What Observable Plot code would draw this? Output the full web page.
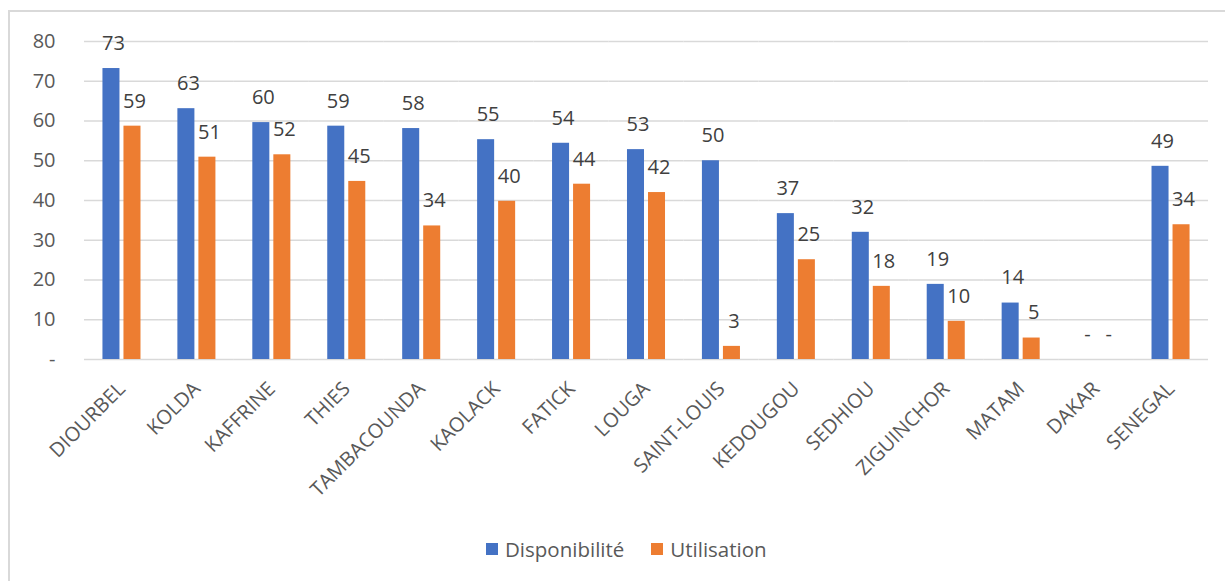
<!DOCTYPE html>
<html><head><meta charset="utf-8">
<script src="https://cdn.jsdelivr.net/npm/d3@7"></script>
<script src="https://cdn.jsdelivr.net/npm/@observablehq/plot@0.6"></script>
<style>
body{margin:0;background:#fff;font-family:"Open Sans",sans-serif;}
#wrap{position:relative;width:1225px;height:581px;overflow:hidden;}
#frame{position:absolute;left:8px;top:10px;width:1240px;height:600px;border:2px solid #d9d9d9;box-sizing:border-box;}
#chart{position:absolute;left:0;top:0;}
#legend{position:absolute;left:486px;top:535px;height:28px;display:flex;align-items:center;font-size:20.5px;color:#595959;}
.sw{width:12px;height:12px;display:inline-block;margin-right:7px;}
.item{display:flex;align-items:center;margin-right:27px;}
</style></head>
<body>
<div id="wrap"><div id="frame"></div><div id="chart"></div><div id="legend"></div></div>
<script>
const regions = ["DIOURBEL","KOLDA","KAFFRINE","THIES","TAMBACOUNDA","KAOLACK","FATICK","LOUGA","SAINT-LOUIS","KEDOUGOU","SEDHIOU","ZIGUINCHOR","MATAM","DAKAR","SENEGAL"];
const disponibilite = [73.2, 63.1, 59.6, 58.7, 58.1, 55.3, 54.4, 52.8, 50.0, 36.7, 32.0, 18.9, 14.2, 0, 48.6];
const utilisation = [58.7, 50.9, 51.5, 44.8, 33.6, 39.8, 44.1, 42.0, 3.3, 25.1, 18.4, 9.6, 5.4, 0, 33.9];
const series = ["Disponibilité", "Utilisation"];
const colors = ["#4472C4", "#ED7D31"];
const yTicks = [0, 10, 20, 30, 40, 50, 60, 70, 80];

const rows = regions.flatMap((r, i) => [
  {region: r, series: series[0], value: disponibilite[i]},
  {region: r, series: series[1], value: utilisation[i]}
]);
const fmt = v => Math.round(v) === 0 ? "-" : String(Math.round(v));

const chart = Plot.plot({
  width: 1225, height: 520,
  marginTop: 41, marginBottom: 161, marginLeft: 84, marginRight: 17,
  style: {fontFamily: "'Open Sans', sans-serif", fontSize: "20px", color: "#595959", background: "transparent"},
  fx: {domain: regions, padding: 0, round: false, label: null},
  x: {domain: series, paddingInner: 0.19, paddingOuter: 0.878, round: false, axis: null},
  y: {domain: [0, 80], label: null, axis: null},
  color: {domain: series, range: colors},
  marks: [
    Plot.gridY(yTicks, {stroke: "#d9d9d9", strokeOpacity: 1, strokeWidth: 1.5}),
    Plot.barY(rows, {fx: "region", x: "series", y: "value", fill: "series"}),
    Plot.text(rows, {fx: "region", x: "series", y: "value", text: d => fmt(d.value), dy: -25, dx: 2, fill: "#404040", fontSize: 20}),
    Plot.axisY(yTicks, {tickSize: 0, tickPadding: 29, tickFormat: d => d === 0 ? "-" : String(d), fontSize: 20, fill: "#595959", label: null}),
    Plot.axisFx({anchor: "bottom", tickRotate: -45, tickSize: 0, tickPadding: 26, fontSize: 20, fill: "#595959", label: null})
  ]
});
document.getElementById("chart").appendChild(chart);

const legend = document.getElementById("legend");
series.forEach((s, i) => {
  const it = document.createElement("div");
  it.className = "item";
  it.innerHTML = `<span class="sw" style="background:${colors[i]}"></span><span>${s}</span>`;
  legend.appendChild(it);
});
</script>
</body></html>
